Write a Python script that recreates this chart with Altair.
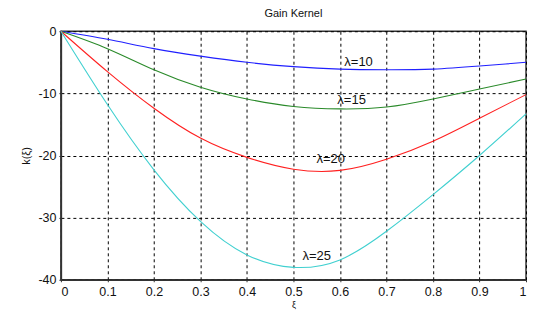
import altair as alt
import pandas as pd

xi = [0.0, 0.1, 0.2, 0.3, 0.4, 0.5, 0.6, 0.7, 0.8, 0.9, 1.0]
k10 = [0.0, -1.3, -2.8, -4.0, -5.0, -5.7, -6.1, -6.2, -6.1, -5.6, -5.0]
k15 = [0.0, -2.8, -6.2, -9.0, -10.9, -12.1, -12.5, -12.2, -10.9, -9.3, -7.7]
k20 = [0.0, -6.5, -12.4, -17.2, -20.3, -22.2, -22.4, -20.6, -17.7, -14.0, -10.2]
k25 = [0.0, -11.8, -22.3, -30.6, -36.0, -38.0, -36.8, -32.2, -26.3, -20.0, -13.3]

series = ["λ=10", "λ=15", "λ=20", "λ=25"]
colors = ["#2020ff", "#2a8a2a", "#ff2020", "#40d0d0"]

label_x = [0.64, 0.625, 0.58, 0.55]
label_y = [-5.0, -11.0, -20.6, -36.1]

rows = []
for name, vals in zip(series, [k10, k15, k20, k25]):
    for x, y in zip(xi, vals):
        rows.append({"xi": x, "k": y, "s": name})
df = pd.DataFrame(rows)
labels = pd.DataFrame({"xi": label_x, "k": label_y, "s": series})

xscale = alt.Scale(domain=[0, 1], nice=False, zero=False)
yscale = alt.Scale(domain=[-40, 0], nice=False, zero=False)

common = dict(grid=True, gridColor="#000", gridDash=[3, 3], gridOpacity=1, gridWidth=1,
              domainColor="#333", domainWidth=1.5, tickColor="#333", tickSize=2,
              labelFont="Liberation Sans", labelFontSize=12.5, labelColor="#111",
              titleFont="Liberation Sans", titleColor="#111", titleFontWeight="normal")

xaxis = alt.Axis(values=[0, 0.1, 0.2, 0.3, 0.4, 0.5, 0.6, 0.7, 0.8, 0.9, 1],
                 labelExpr="datum.value == 0 ? '0' : datum.value == 1 ? '1' : format(datum.value, '.1f')",
                 title="ξ", titleFontSize=9, titlePadding=2, labelPadding=4, **common)
yaxis = alt.Axis(values=[0, -10, -20, -30, -40], title="k(ξ)", titleFontSize=11,
                 labelExpr="datum.value == 0 ? '0' : '-' + abs(datum.value)",
                 titlePadding=6, labelPadding=3, **common)

lines = alt.Chart(df).mark_line(interpolate="natural", strokeWidth=1.1).encode(
    x=alt.X("xi:Q", scale=xscale, axis=xaxis),
    y=alt.Y("k:Q", scale=yscale, axis=yaxis),
    color=alt.Color("s:N", scale=alt.Scale(domain=series, range=colors), legend=None),
)

text = alt.Chart(labels).mark_text(fontSize=13, font="Liberation Sans", color="#111",
                                   align="center", baseline="middle").encode(
    x=alt.X("xi:Q", scale=xscale),
    y=alt.Y("k:Q", scale=yscale),
    text="s:N",
)

chart = alt.layer(lines, text).properties(
    width=466, height=249,
    title=alt.TitleParams("Gain Kernel", fontSize=11, fontWeight="normal", font="Liberation Sans",
                          color="#111", offset=6),
    autosize=alt.AutoSizeParams(type="none"),
    padding={"left": 53, "top": 23, "right": 4, "bottom": 30},
    background="white",
).configure_view(stroke="#333", strokeWidth=1.5)

chart.save("out.html", embed_options={"renderer": "svg", "actions": False})
